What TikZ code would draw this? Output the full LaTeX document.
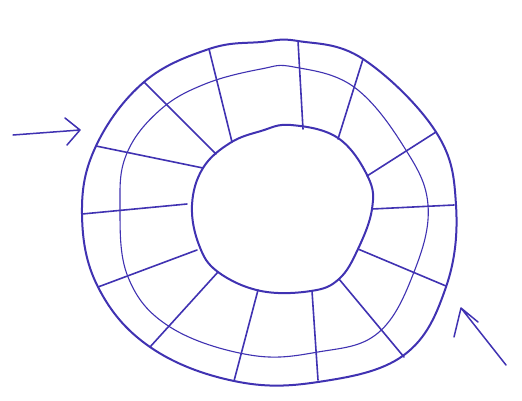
\documentclass[tikz,border=0pt]{standalone}
\definecolor{ink}{RGB}{64,50,178}
\begin{document}
\begin{tikzpicture}[x=1pt,y=-1pt,line cap=round,line join=round]
\useasboundingbox[fill=white] (0,0) rectangle (522,400);
% rings
\draw[ink,line width=2pt] plot[smooth cycle,tension=.65] coordinates {
  (261,42) (298,41) (363,59) (436,132) (456,205) (446,287) (404,355) (318,382)
  (234,381) (150,347) (98,287) (82,214) (96,146) (144,82) (209,49)};
\draw[ink,line width=1.1pt] plot[smooth cycle,tension=.65] coordinates {
  (261,69) (294,67) (354,87) (404,147) (428,205) (414,272) (378,333) (318,352)
  (250,355) (170,327) (128,277) (120,205) (127,153) (160,110) (205,84)};
\draw[ink,line width=2pt] plot[smooth cycle,tension=.65] coordinates {
  (261,131) (291,125) (338,138) (368,177) (372,209) (358,249) (339,279) (311,291)
  (261,291) (218,272) (199,245) (192,205) (203,168) (230,143)};
% spokes
\foreach \xa/\ya/\xb/\yb in {209/49/232/142, 144/82/216/154, 96/146/203/168,
  298/41/303/129, 363/59/338/139, 436/132/367/176, 82/214/187/204,
  98/287/197/250, 150/347/218/272, 234/381/258/290, 372/209/454/205,
  358/249/446/286, 339/279/404/357, 312/291/318/380}
  \draw[ink,line width=1.6pt] (\xa,\ya) -- (\xb,\yb);
% arrows
\coordinate (inA) at (13,135); \coordinate (inT) at (80,130);
\draw[ink,line width=1.5pt] (inA) -- (inT) (65,118) -- (inT) -- (67,145);
\coordinate (outA) at (506,365); \coordinate (outT) at (461,308);
\draw[ink,line width=1.5pt] (outA) -- (outT) (454,337) -- (outT) -- (478,322);
\end{tikzpicture}
\end{document}
